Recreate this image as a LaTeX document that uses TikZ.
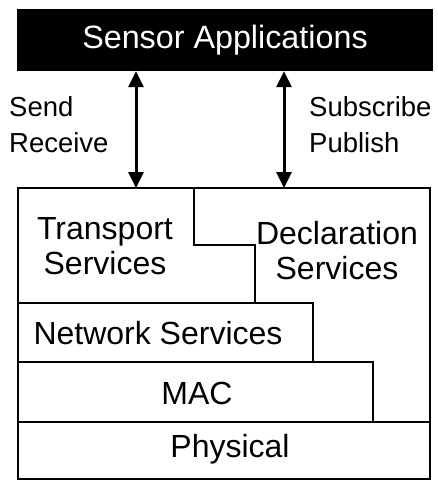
\documentclass[tikz,border=0pt]{standalone}
\usepackage{fontspec}
\setmainfont{Liberation Sans}
\usetikzlibrary{arrows.meta}

\tikzset{
  layer/.style={draw, line width=2.8pt, line join=miter},
  layertext/.style={font=\fontsize{32}{35}\selectfont, align=center, inner sep=0pt},
  sidetext/.style={font=\fontsize{27.5}{36}\selectfont, align=left, inner sep=0pt, anchor=west},
}

\begin{document}
\begin{tikzpicture}[x=1pt, y=-1pt, >={Triangle[length=16pt, width=15pt]}]
      \useasboundingbox (0,0) rectangle (437,481);

      % application box
      \node[fill=black, text=white, minimum width=416pt, minimum height=62pt,
            inner sep=0pt, font=\fontsize{32.3}{36}\selectfont] (app) at (225,40) {Sensor Applications};

      % protocol stack
      \draw[layer] (18,422) rectangle (430,479);
      \draw[layer] (18,362) rectangle (373,422);
      \draw[layer] (18,303) rectangle (313,362);
      \draw[layer] (18,188) -- (194,188) -- (194,245) -- (255,245) -- (255,303) -- (18,303) -- cycle;
      \draw[layer] (194,188) -- (430,188) -- (430,422) -- (373,422) -- (373,362) -- (313,362)
                   -- (313,303) -- (255,303) -- (255,245) -- (194,245) -- cycle;

      \node[layertext] (transport) at (105,246) {Transport\\Services};
      \node[layertext] (declaration) at (337,251) {Declaration\\Services};
      \node[layertext] (network) at (158,333) {Network Services};
      \node[layertext] (mac) at (197,393) {MAC};
      \node[layertext] (physical) at (230,449) {Physical};

      % interfaces
      \coordinate (transtop) at (136,188);
      \coordinate (decltop) at (284,188);
      \draw[<->, line width=3pt] (app.south -| transtop) -- (transtop);
      \draw[<->, line width=3pt] (app.south -| decltop) -- (decltop);

      \node[sidetext] (sendrecv) at (9,125) {Send\\Receive};
      \node[sidetext] (subpub) at (309,125) {Subscribe\\Publish};
    \end{tikzpicture}
\end{document}
